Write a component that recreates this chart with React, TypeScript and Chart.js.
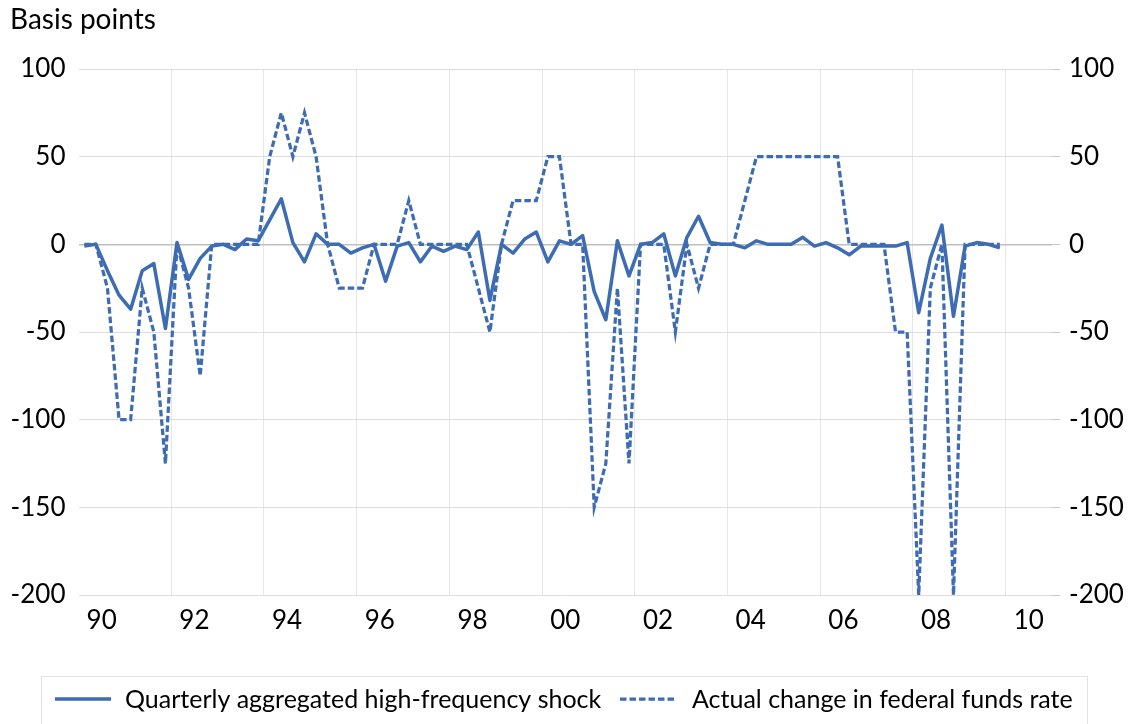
import React, { useEffect, useRef } from "react";
import { Chart, registerables } from "chart.js";

Chart.register(...registerables);

// Quarterly categories, 1990Q1 - 2009Q4
const quarters: string[] = [];
for (let y = 1990; y <= 2009; y++) {
  for (let q = 1; q <= 4; q++) quarters.push(`${y}Q${q}`);
}

// Quarterly aggregated high-frequency shock (basis points)
const shock = [
  -1, 0, -15, -29, -37, -15, -11, -48,
  1, -20, -8, -1, 0, -3, 3, 2,
  14, 26, 1, -10, 6, 0, 0, -5,
  -2, 0, -21, -1, 1, -10, -1, -4,
  -1, -3, 7, -32, 0, -5, 3, 7,
  -10, 2, 0, 5, -27, -43, 2, -18,
  0, 1, 6, -18, 4, 16, 1, 0,
  0, -2, 2, 0, 0, 0, 4, -1,
  1, -2, -6, -1, -1, -1, -1, 1,
  -39, -8, 11, -41, -1, 1, 0, -2,
];

// Actual change in federal funds rate (basis points)
const fedFunds = [
  0, 0, -25, -100, -100, -25, -50, -125,
  0, -25, -75, 0, 0, 0, 0, 0,
  50, 75, 50, 75, 50, 0, -25, -25,
  -25, 0, 0, 0, 25, 0, 0, 0,
  0, 0, -25, -50, 0, 25, 25, 25,
  50, 50, 0, 0, -150, -125, -25, -125,
  0, 0, 0, -50, 0, -25, 0, 0,
  0, 25, 50, 50, 50, 50, 50, 50,
  50, 50, 0, 0, 0, 0, -50, -50,
  -200, -25, 0, -200, 0, 0, 0, 0,
];

const yearLabels = ["90", "92", "94", "96", "98", "00", "02", "04", "06", "08", "10"];
const seriesNames = [
  "Quarterly aggregated high-frequency shock",
  "Actual change in federal funds rate",
];
const yAxisTitle = "Basis points";

const FONT = "Lato, 'Noto Sans', sans-serif";
const BLUE = "#3D6CB3";
const QUARTERS_PER_LABEL = 8;
const AXIS_QUARTERS = 84; // axis runs through 2010Q4

export default function App() {
  const ref = useRef<HTMLCanvasElement | null>(null);

  useEffect(() => {
    const canvas = ref.current;
    if (!canvas) return;

    const isLabelTick = (v: number) =>
      Math.abs(((v - 1.5) / QUARTERS_PER_LABEL) - Math.round((v - 1.5) / QUARTERS_PER_LABEL)) < 1e-6;

    const titlePlugin = {
      id: "titleText",
      afterDraw(chart: any) {
        const c = chart.ctx;
        c.save();
        c.font = `28px ${FONT}`;
        c.fillStyle = "#000";
        c.textAlign = "left";
        c.textBaseline = "alphabetic";
        c.fillText(yAxisTitle, 10, 29);
        c.restore();
      },
    };

    const legendPlugin = {
      id: "boxLegend",
      afterDraw(chart: any) {
        const c = chart.ctx;
        c.save();
        c.strokeStyle = "#e3e3e3";
        c.lineWidth = 1;
        c.strokeRect(41.5, 676.5, 1046, 60);
        const slots = [
          { sx: 55, ex: 111, tx: 125 },
          { sx: 620, ex: 674, tx: 692 },
        ];
        chart.data.datasets.forEach((ds: any, i: number) => {
          const s = slots[i];
          c.beginPath();
          c.setLineDash(ds.borderDash || []);
          c.lineWidth = ds.borderWidth;
          c.strokeStyle = ds.borderColor;
          c.moveTo(s.sx, 699);
          c.lineTo(s.ex, 699);
          c.stroke();
          c.setLineDash([]);
          c.font = `25px ${FONT}`;
          c.fillStyle = "#000";
          c.textAlign = "left";
          c.textBaseline = "alphabetic";
          c.fillText(ds.label, s.tx, 708);
        });
        c.restore();
      },
    };

    const chart = new Chart(canvas, {
      type: "line",
      data: {
        datasets: [
          {
            label: seriesNames[0],
            data: shock.map((v, i) => ({ x: i, y: v })),
            borderColor: BLUE,
            borderWidth: 3.5,
            borderJoinStyle: "round",
            pointRadius: 0,
            tension: 0,
            yAxisID: "y",
            order: 2,
          },
          {
            label: seriesNames[1],
            data: fedFunds.map((v, i) => ({ x: i, y: v })),
            borderColor: BLUE,
            borderWidth: 3.25,
            borderDash: [6.5, 3],
            pointRadius: 0,
            tension: 0,
            yAxisID: "y2",
            order: 1,
          },
        ],
      },
      options: {
        animation: false,
        responsive: false,
        devicePixelRatio: 1,
        layout: { padding: { top: 69, bottom: 79, left: 0, right: 0 } },
        plugins: {
          legend: { display: false },
          title: { display: false },
          tooltip: { enabled: false },
        },
        scales: {
          x: {
            type: "linear",
            min: -0.5,
            max: AXIS_QUARTERS - 0.5,
            afterBuildTicks: (scale: any) => {
              const ticks: any[] = [];
              for (let k = 0; k < yearLabels.length; k++) {
                ticks.push({ value: 1.5 + k * QUARTERS_PER_LABEL });
              }
              for (let k = 1; k < yearLabels.length; k++) {
                ticks.push({ value: k * QUARTERS_PER_LABEL - 0.5 });
              }
              ticks.sort((a, b) => a.value - b.value);
              scale.ticks = ticks;
            },
            afterFit: (scale: any) => {
              scale.height = 50;
            },
            ticks: {
              autoSkip: false,
              maxRotation: 0,
              minRotation: 0,
              padding: 10,
              color: "#000",
              font: { family: FONT, size: 26 },
              callback: (v: any) => {
                const val = Number(v);
                if (!isLabelTick(val)) return "";
                return yearLabels[Math.round((val - 1.5) / QUARTERS_PER_LABEL)];
              },
            },
            grid: {
              drawTicks: false,
              color: (ctx: any) =>
                ctx.tick && !isLabelTick(ctx.tick.value) ? "#e6e6e6" : "rgba(0,0,0,0)",
              lineWidth: 1,
            },
            border: { display: false },
          },
          y: {
            type: "linear",
            position: "left",
            min: -200,
            max: 100,
            afterFit: (scale: any) => {
              scale.width = 78.5;
            },
            ticks: {
              stepSize: 50,
              padding: 13,
              color: "#000",
              font: { family: FONT, size: 26 },
            },
            grid: {
              drawTicks: false,
              color: (ctx: any) => (ctx.tick && ctx.tick.value === 0 ? "#bfbfbf" : "#dcdcdc"),
              lineWidth: (ctx: any) => (ctx.tick && ctx.tick.value === 0 ? 1.5 : 1),
            },
            border: { display: false },
          },
          y2: {
            type: "linear",
            position: "right",
            min: -200,
            max: 100,
            afterFit: (scale: any) => {
              scale.width = 80;
            },
            ticks: {
              stepSize: 50,
              padding: 9,
              color: "#000",
              font: { family: FONT, size: 26 },
            },
            grid: {
              drawOnChartArea: false,
              drawTicks: true,
              tickLength: 8,
              color: "#c8c8c8",
            },
            border: { display: false },
          },
        },
      } as any,
      plugins: [titlePlugin, legendPlugin],
    });

    return () => chart.destroy();
  }, []);

  return (
    <div style={{ position: "absolute", left: 0, top: 0, width: 1132, height: 724, background: "#fff" }}>
      <canvas ref={ref} width={1132} height={724} style={{ display: "block", width: 1132, height: 724 }} />
    </div>
  );
}
